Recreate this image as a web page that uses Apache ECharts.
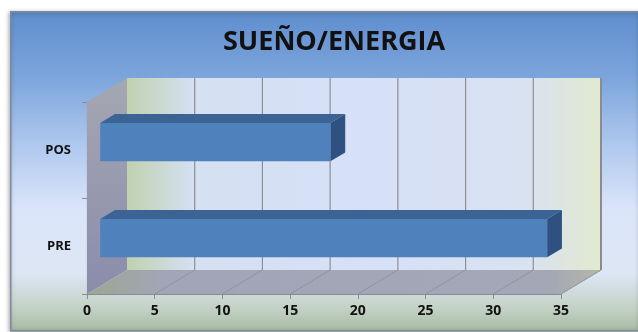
<!DOCTYPE html>
<html>
<head>
<meta charset="utf-8">
<script src="https://cdn.jsdelivr.net/npm/echarts@6/dist/echarts.min.js"></script>
<style>
  html, body { margin: 0; padding: 0; background: #fff; }
  #chart { width: 638px; height: 332px; }
</style>
</head>
<body>
<div id="chart"></div>
<script>
// data
var categories = ['PRE', 'POS'];
var values = [33, 17];
var xMin = 0, xMax = 35, xStep = 5;

// fake 3d look
var DX = 40, DY = -24;          // depth of the box
var BAR_Z0 = 0.33, BAR_Z1 = 0.7; // where the bar sits in the depth
var BAR_H = 0.4;                 // bar thickness, part of the band

var chart = echarts.init(document.getElementById('chart'));

function renderWalls(params, api) {
  var x0 = api.coord([xMin, categories[0]])[0];
  var x1 = api.coord([xMax, categories[0]])[0];
  var band = api.size([0, 1])[1];
  var yB = api.coord([xMin, categories[0]])[1] + band / 2;
  var yT = api.coord([xMin, categories[categories.length - 1]])[1] - band / 2;
  var kids = [];
  // back wall
  kids.push({
    type: 'polygon',
    shape: { points: [[x0 + DX, yT + DY], [x1 + DX, yT + DY], [x1 + DX, yB + DY], [x0 + DX, yB + DY]] },
    style: {
      fill: new echarts.graphic.LinearGradient(0, 0, 1, 0, [
        { offset: 0, color: '#c0d1b0' },
        { offset: 0.14, color: '#d5e0f2' },
        { offset: 0.5, color: '#d6e0f8' },
        { offset: 0.85, color: '#d9e2f0' },
        { offset: 1, color: '#e2e9cf' }
      ])
    }
  });
  // side wall
  kids.push({
    type: 'polygon',
    shape: { points: [[x0, yT], [x0 + DX, yT + DY], [x0 + DX, yB + DY], [x0, yB]] },
    style: {
      fill: new echarts.graphic.LinearGradient(0, 0, 0, 1, [
        { offset: 0, color: '#a5a7b2' },
        { offset: 1, color: '#8b8cab' }
      ])
    }
  });
  // floor
  kids.push({
    type: 'polygon',
    shape: { points: [[x0, yB], [x1, yB], [x1 + DX, yB + DY], [x0 + DX, yB + DY]] },
    style: {
      fill: new echarts.graphic.LinearGradient(0, 0, 1, 0, [
        { offset: 0, color: '#9ea691' },
        { offset: 0.15, color: '#a2a5b8' },
        { offset: 0.9, color: '#a4a7b6' },
        { offset: 1, color: '#b4b8a6' }
      ])
    }
  });
  var lineStyle = { stroke: '#8d8f96', lineWidth: 1.2 };
  for (var v = xMin; v <= xMax; v += xStep) {
    var x = api.coord([v, categories[0]])[0];
    if (v > xMin) {
      kids.push({ type: 'line', shape: { x1: x + DX, y1: yT + DY, x2: x + DX, y2: yB + DY }, style: lineStyle });
      kids.push({ type: 'line', shape: { x1: x, y1: yB, x2: x + DX, y2: yB + DY }, style: { stroke: '#8d8f96', lineWidth: 0.8 } });
    }
  }
  kids.push({ type: 'line', shape: { x1: x1 + DX, y1: yT + DY, x2: x1 + DX, y2: yB + DY }, style: { stroke: '#8a8c92', lineWidth: 2 } });
  kids.push({ type: 'line', shape: { x1: x1, y1: yB, x2: x1 + DX, y2: yB + DY }, style: { stroke: '#9a9ca2', lineWidth: 1 } });
  return { type: 'group', children: kids };
}

function renderBar(params, api) {
  var v = api.value(0);
  var cat = api.value(1);
  var p0 = api.coord([xMin, cat]);
  var p1 = api.coord([v, cat]);
  var band = api.size([0, 1])[1];
  var h = band * BAR_H;
  var ox = DX * BAR_Z0, oy = DY * BAR_Z0;
  var dx = DX * (BAR_Z1 - BAR_Z0), dy = DY * (BAR_Z1 - BAR_Z0);
  var l = p0[0] + ox, r = p1[0] + ox;
  var t = p0[1] + oy - h / 2, b = t + h;
  return {
    type: 'group',
    children: [
      { type: 'polygon', shape: { points: [[l, t], [l + dx, t + dy], [r + dx, t + dy], [r, t]] }, style: { fill: '#3b6393' } },
      { type: 'polygon', shape: { points: [[r, t], [r + dx, t + dy], [r + dx, b + dy], [r, b]] }, style: { fill: '#2f5181' } },
      { type: 'rect', shape: { x: l, y: t, width: r - l, height: h }, style: { fill: '#4f81bd' } }
    ]
  };
}

var barData = categories.map(function (c, i) { return [values[i], i]; });

var option = {
  animation: false,
  backgroundColor: '#ffffff',
  graphic: [{
    type: 'rect',
    left: 10, top: 11,
    shape: { width: 630, height: 319 },
    z: -10,
    style: {
      fill: new echarts.graphic.LinearGradient(0, 0, 0, 1, [
        { offset: 0, color: '#5f8dce' },
        { offset: 0.2, color: '#7ba4db' },
        { offset: 0.45, color: '#b6cdf0' },
        { offset: 0.62, color: '#dbe5fa' },
        { offset: 0.82, color: '#dde6f4' },
        { offset: 0.93, color: '#c2d1c4' },
        { offset: 1, color: '#a9baa2' }
      ]),
      stroke: '#7d8ba0',
      lineWidth: 1.5,
      shadowBlur: 4,
      shadowColor: 'rgba(0,0,0,0.35)',
      shadowOffsetX: -1,
      shadowOffsetY: 1
    }
  }],
  title: {
    text: 'SUEÑO/ENERGIA',
    left: 218,
    top: 24,
    textStyle: { fontFamily: 'Open Sans', fontWeight: 'bold', fontSize: 27, color: '#111' }
  },
  grid: { left: 87, right: 77, top: 102, bottom: 38 },
  xAxis: {
    type: 'value',
    min: xMin, max: xMax, interval: xStep,
    axisLine: { show: true, lineStyle: { color: '#8a8c92', width: 1.2 } },
    axisTick: { show: true, length: 5, lineStyle: { color: '#8a8c92' } },
    splitLine: { show: false },
    axisLabel: { margin: 10, fontFamily: 'Open Sans', fontWeight: 'bold', fontSize: 14, color: '#111' }
  },
  yAxis: {
    type: 'category',
    data: categories,
    axisLine: { show: true, lineStyle: { color: '#8a8c92', width: 1.2 } },
    axisTick: { show: true, length: 5, lineStyle: { color: '#8a8c92' } },
    axisLabel: { margin: 16, fontFamily: 'Open Sans', fontWeight: 'bold', fontSize: 13, color: '#111' }
  },
  series: [{
    type: 'custom',
    renderItem: renderWalls,
    data: [[xMin, 0]],
    z: 1,
    silent: true
  }, {
    type: 'custom',
    renderItem: renderBar,
    data: barData,
    encode: { x: 0, y: 1 },
    z: 5
  }]
};
chart.setOption(option);
</script>
</body>
</html>
